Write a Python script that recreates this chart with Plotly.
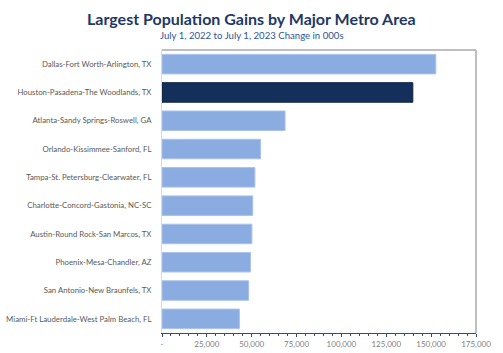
import plotly.graph_objects as go

metros = [
    "Dallas-Fort Worth-Arlington, TX",
    "Houston-Pasadena-The Woodlands, TX",
    "Atlanta-Sandy Springs-Roswell, GA",
    "Orlando-Kissimmee-Sanford, FL",
    "Tampa-St. Petersburg-Clearwater, FL",
    "Charlotte-Concord-Gastonia, NC-SC",
    "Austin-Round Rock-San Marcos, TX",
    "Phoenix-Mesa-Chandler, AZ",
    "San Antonio-New Braunfels, TX",
    "Miami-Ft Lauderdale-West Palm Beach, FL",
]
gains = [152598, 139789, 68585, 54949, 51770, 50561, 50112, 49307, 48298, 43112]
highlight = "Houston-Pasadena-The Woodlands, TX"

tick_values = [0, 25000, 50000, 75000, 100000, 125000, 150000, 175000]
tick_labels = ["-", "25,000", "50,000", "75,000", "100,000", "125,000", "150,000", "175,000"]

LIGHT = "#8AACE1"
DARK = "#142F59"
colors = [DARK if m == highlight else LIGHT for m in metros]
edges = ["#0d2347" if m == highlight else "#A9C2EC" for m in metros]

fig = go.Figure(go.Bar(
    x=gains, y=metros, orientation="h",
    marker=dict(color=colors, line=dict(color=edges, width=1)),
    hoverinfo="x+y",
))

L, R, T, B = 162, 27, 50, 20
W, H = 503, 353
fig.update_layout(
    width=W, height=H,
    margin=dict(l=L, r=R, t=T, b=B, autoexpand=False),
    paper_bgcolor="white", plot_bgcolor="white",
    font=dict(family="Lato, Carlito, sans-serif", color="#595959", size=8),
    bargap=0.31,
    showlegend=False,
)

def py(pix):
    return (H - B - pix) / (H - T - B)

def px(pix):
    return (pix - L) / (W - L - R)

fig.add_annotation(text="<b>Largest Population Gains by Major Metro Area</b>",
                   x=px(251.5), y=py(18), xref="paper", yref="paper", showarrow=False,
                   font=dict(size=16, color="#1F3864", family="Lato, sans-serif"),
                   xanchor="center", yanchor="middle")
fig.add_annotation(text="July 1, 2022 to July 1, 2023 Change in 000s",
                   x=px(251.5), y=py(35), xref="paper", yref="paper", showarrow=False,
                   font=dict(size=9.6, color="#2F5597", family="Lato, sans-serif"),
                   xanchor="center", yanchor="middle")

fig.update_xaxes(
    range=[0, 175000],
    tickvals=tick_values, ticktext=tick_labels,
    showgrid=False, zeroline=False,
    showline=True, linecolor="#2F4F7F", linewidth=1,
    ticks="outside", ticklen=3, tickcolor="#2F4F7F", tickwidth=1,
    minor=dict(ticks="outside", dtick=5000, ticklen=2, tickcolor="#2F4F7F", showgrid=False),
    tickfont=dict(size=8, color="#7F7F7F"),
    automargin=False,
    fixedrange=True,
)
fig.update_yaxes(
    autorange="reversed",
    showgrid=False, zeroline=False,
    showline=True, linecolor="#D9D9D9", linewidth=1,
    ticks="", ticklabelstandoff=8,
    tickfont=dict(size=7.8, color="#595959"),
    automargin=False,
    fixedrange=True,
)

fig.add_shape(type="line", xref="paper", yref="paper", x0=0, x1=1, y0=1, y1=1,
              line=dict(color="#BFBFBF", width=2))
fig.add_shape(type="line", xref="paper", yref="paper", x0=1, x1=1, y0=0, y1=1,
              line=dict(color="#BFBFBF", width=2))

fig.write_html("out.html")
